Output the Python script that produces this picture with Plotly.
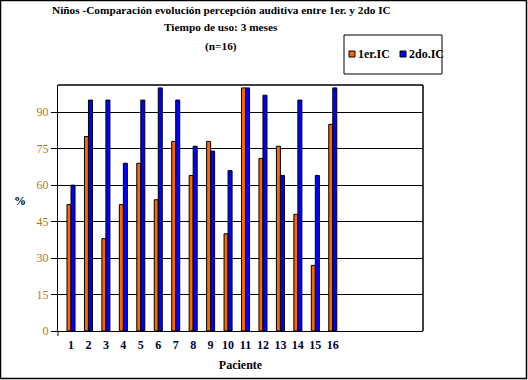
import plotly.graph_objects as go

pacientes = list(range(1, 17))
ic1 = [52, 80, 38, 52, 69, 54, 78, 64, 78, 40, 100, 71, 76, 48, 27, 85]
ic2 = [60, 95, 95, 69, 95, 100, 95, 76, 74, 66, 100, 97, 64, 95, 64, 100]
yticks = [0, 15, 30, 45, 60, 75, 90]
series_names = ["1er.IC", "2do.IC"]
series_colors = ["#FF6600", "#0000FF"]

serif = "Liberation Serif"
bw = 0.23

fig = go.Figure()
fig.add_trace(go.Bar(x=pacientes, y=ic1, name=series_names[0], width=bw, offset=-bw,
                     marker=dict(color=series_colors[0], line=dict(color="black", width=1))))
fig.add_trace(go.Bar(x=pacientes, y=ic2, name=series_names[1], width=bw, offset=0,
                     marker=dict(color=series_colors[1], line=dict(color="black", width=1))))

W, H = 528, 380
L, R, T, B = 58, 423, 85, 331
pw, ph = R - L, B - T

def px(xp):
    return (xp - L) / pw

def py(yp):
    return (B - yp) / ph

shapes = [
    dict(type="line", xref="paper", yref="paper", x0=0, x1=1, y0=1, y1=1,
         line=dict(color="black", width=1.5)),
    dict(type="line", xref="paper", yref="paper", x0=1, x1=1, y0=0, y1=1,
         line=dict(color="black", width=1.5)),
    dict(type="line", xref="paper", yref="paper", x0=0, x1=0, y0=0, y1=py(336),
         line=dict(color="black", width=1)),
    dict(type="rect", xref="paper", yref="paper",
         x0=px(0.5), x1=px(526.5), y0=py(378.5), y1=py(0.5),
         line=dict(color="black", width=1.5)),
    # legend box
    dict(type="rect", xref="paper", yref="paper",
         x0=px(344), x1=px(442), y0=py(74), y1=py(35),
         line=dict(color="black", width=1), fillcolor="white"),
]
tfont = dict(family=serif, size=11.3, color="black")
annotations = [
    dict(text="<b>Niños -Comparación evolución percepción auditiva entre 1er. y 2do IC</b>",
         xref="paper", yref="paper", x=px(221), y=py(10), xanchor="center", yanchor="middle",
         showarrow=False, font=tfont),
    dict(text="<b>Tiempo de uso: 3 meses</b>",
         xref="paper", yref="paper", x=px(221), y=py(27), xanchor="center", yanchor="middle",
         showarrow=False, font=tfont),
    dict(text="<b>(n=16)</b>",
         xref="paper", yref="paper", x=px(221), y=py(46), xanchor="center", yanchor="middle",
         showarrow=False, font=tfont),
    dict(text="<b>%</b>",
         xref="paper", yref="paper", x=px(20), y=py(201), xanchor="center", yanchor="middle",
         showarrow=False, font=dict(family=serif, size=12, color="black")),
]
leg_sq_x = [349, 400]
for name, col, sx in zip(series_names, series_colors, leg_sq_x):
    shapes.append(dict(type="rect", xref="paper", yref="paper",
                       x0=px(sx), x1=px(sx + 6), y0=py(57), y1=py(51),
                       line=dict(color="black", width=1), fillcolor=col))
    annotations.append(dict(text="<b>" + name + "</b>", xref="paper", yref="paper",
                            x=px(sx + 7), y=py(54), xanchor="left", yanchor="middle",
                            showarrow=False,
                            font=dict(family=serif, size=12, color="black")))

fig.update_layout(
    width=W, height=H,
    margin=dict(l=L, r=W - R, t=T, b=H - B, pad=0, autoexpand=False),
    paper_bgcolor="white", plot_bgcolor="white",
    barmode="overlay",
    showlegend=False,
    xaxis=dict(range=[0.255, 21.17], tickmode="array", tickvals=pacientes,
               ticktext=[str(p) for p in pacientes], showgrid=False,
               showline=True, linecolor="black", linewidth=1, mirror=False,
               ticks="outside", ticklen=3, tickcolor="rgba(0,0,0,0)",
               zeroline=False, automargin=False,
               tickfont=dict(family=serif, size=12, color="#000033", weight="bold"),
               title=dict(text="<b>Paciente</b>", font=dict(family=serif, size=12, color="black"),
                          standoff=9)),
    yaxis=dict(range=[0, 101.2], tickmode="array", tickvals=yticks,
               showgrid=True, gridcolor="black", gridwidth=1,
               showline=True, linecolor="black", linewidth=1,
               ticks="outside", ticklen=6, tickcolor="black",
               zeroline=False, automargin=False,
               tickfont=dict(family=serif, size=12, color="#B07A10")),
    shapes=shapes,
    annotations=annotations,
)

fig.write_html("out.html", config={"displayModeBar": False},
               post_script="document.body.style.margin='0';document.body.style.overflow='hidden';")
